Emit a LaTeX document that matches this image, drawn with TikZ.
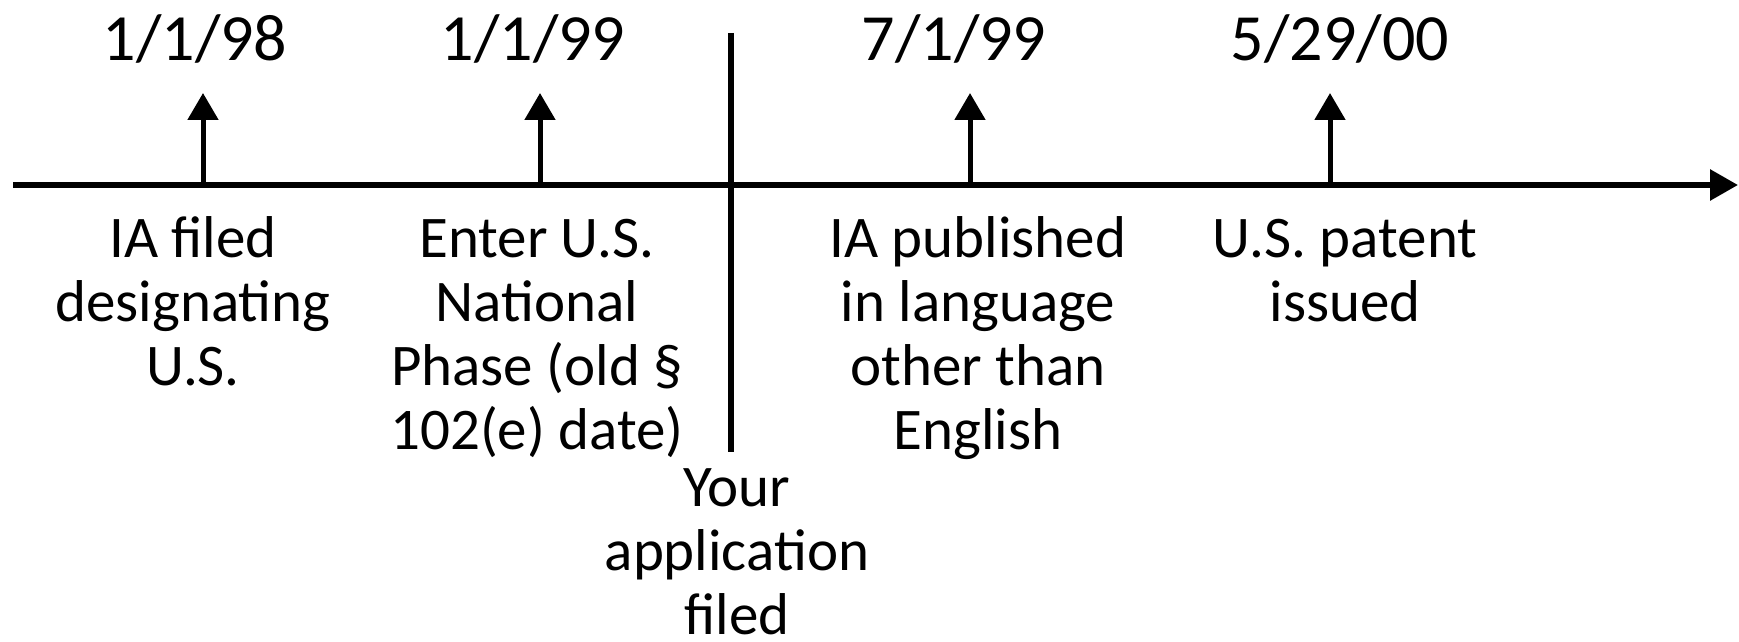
\documentclass[tikz,border=0pt]{standalone}
\usepackage{fontspec}
\setmainfont{Carlito}
\usetikzlibrary{arrows.meta}

\begin{document}
\begin{tikzpicture}[x=0.5pt,y=-0.5pt,
  axis/.style={line width=3pt,-{Triangle[length=14pt,width=15pt]}},
  tick/.style={line width=2.5pt,-{Triangle[length=13.5pt,width=15pt]}},
  datelabel/.style={anchor=base,inner sep=0pt,font=\fontsize{33}{36}\selectfont},
  eventlabel/.style={anchor=base,inner sep=0pt,align=center,font=\fontsize{29.5}{32}\selectfont}]
  \useasboundingbox (0,0) rectangle (1739,642);

  %% Time axis
  \coordinate (start) at (13,185);
  \coordinate (stop)  at (1738,185);
  \draw[axis] (start) -- (stop);

  %% Dated events: arrow, date above, description below
  %% (\k = number of lines, the node base is the last line)
  \foreach \n/\ax/\dx/\lx/\k/\dte/\txt in {
      1/203/195/193/3/{1/1/98}/{IA filed\\designating\\U.S.},
      2/540/533/537/4/{1/1/99}/{Enter U.S.\\National\\Phase (old §\\102(e) date)},
      3/970/954/978/4/{7/1/99}/{IA published\\in language\\other than\\English},
      4/1330/1340/1345/2/{5/29/00}/{U.S. patent\\issued}}
  {
    \coordinate (base\n) at (\ax,185);
    \coordinate (tip\n)  at (\ax,93);
    \draw[tick] (base\n) -- (tip\n);
    \node[datelabel] (date\n) at (\dx,61) {\dte};
    \node[eventlabel] (event\n) at (\lx,{257+64*(\k-1)}) {\txt};
  }

  %% Filing date of your application
  \coordinate (cuttop) at (731,33);
  \coordinate (cutbot) at (731,452);
  \draw[line width=3pt] (cuttop) -- (cutbot);
  \node[eventlabel,text depth=0pt] (yours) at (737,634) {Your\\application\\filed};
\end{tikzpicture}
\end{document}
